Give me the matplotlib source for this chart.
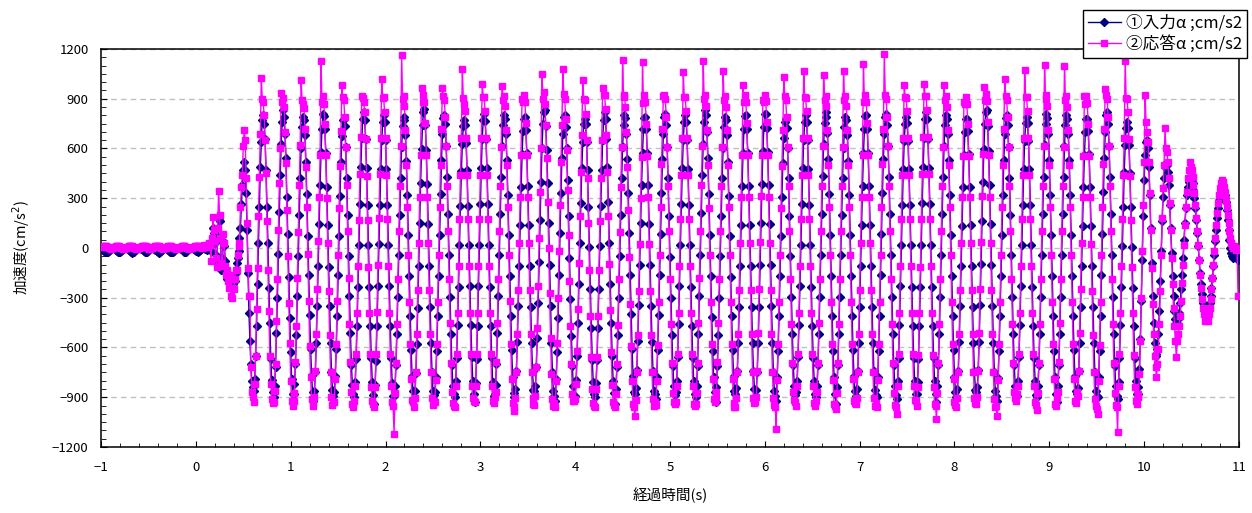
import numpy as np
import matplotlib.pyplot as plt
from matplotlib.ticker import MultipleLocator

plt.rcParams['font.family'] = ['Noto Sans CJK JP', 'DejaVu Sans']

# sampling: 100 Hz, record starts 1 s before the trigger
dt = 0.01
t_start = -1.0

# ---------- ① input acceleration (cm/s2) ----------
input_quiet = [
    -2, -5, -10, -16, -22, -26, -27, -23, -16, -9, -3, 0, 1, 0,
    -3, -7, -12, -18, -23, -27, -26, -21, -14, -7, -2, 1, 2, 0,
    -4, -8, -13, -19, -24, -28, -27, -22, -15, -8, -3, 0, 1, -1,
    -4, -9, -14, -20, -25, -27, -25, -19, -12, -6, -1, 1, 1, -2,
    -5, -10, -15, -21, -26, -28, -25, -18, -11, -5, -1, 1, 0, -2,
    -6, -11, -17, -22, -26, -27, -23, -16, -9, -3, 0, 2, 1, -1,
    -4, -9, -15, -21, -25, -26, -22, -15, -8, -3, 1, 2, 1, -2,
    -6, -11, -16, -20, -22, -20, -14, -8, -3, 0, 2, 3,
]
input_onset = [
    -4, -8, -14, -6, 8, 10, -20, 40, 120, 90, 30, -40, -90, 60, 180, 160,
    50, -130, -60, 44, 10, -80, -150, -190, -160, -200, -210, -230, -250,
    -220, -180, -200, -150, -90, -60, -20, 60, 120, 266, 380, 470, 520, 470,
    330, 110, -150, -390, -560, -700, -800, -840,
]
# one row per shaking cycle, trough to trough
input_cycles = [
    [-860, -790, -650, -470, -220, 30, 250, 490, 640, 770, 800, 745, 655, 470, 250, 30, -240, -455, -670, -795, -870],
    [-900, -835, -715, -510, -300, -35, 215, 440, 630, 760, 830, 790, 690, 540, 310, 85, -175, -420, -625, -790, -880],
    [-880, -820, -700, -525, -290, -50, 200, 420, 605, 730, 790, 770, 680, 520, 325, 75, -165, -405, -610, -765, -870],
    [-920, -860, -745, -570, -350, -110, 145, 380, 580, 720, 805, 795, 715, 575, 370, 140, -115, -350, -570, -745, -855, -890],
    [-870, -770, -610, -410, -165, 75, 315, 520, 675, 770, 780, 735, 610, 420, 200, -50, -290, -515, -705, -825, -880],
    [-900, -810, -670, -470, -235, 20, 265, 490, 665, 775, 820, 770, 660, 485, 260, 15, -235, -470, -665, -810, -885],
    [-940, -825, -680, -470, -230, 25, 260, 475, 650, 760, 800, 760, 650, 475, 260, 15, -230, -470, -665, -815, -890],
    [-890, -830, -705, -520, -295, -45, 200, 425, 610, 735, 790, 770, 680, 525, 320, 80, -170, -410, -615, -770, -865],
    [-910, -865, -755, -580, -360, -110, 150, 390, 595, 740, 820, 840, 740, 590, 385, 145, -110, -355, -575, -745, -860, -885],
    [-870, -775, -620, -410, -170, 80, 325, 530, 690, 785, 800, 745, 615, 430, 205, -45, -295, -520, -705, -830, -880],
    [-900, -805, -665, -465, -235, 15, 255, 465, 630, 735, 770, 740, 635, 470, 255, 15, -230, -465, -660, -800, -880],
    [-930, -815, -670, -470, -230, 20, 265, 485, 660, 770, 810, 765, 655, 480, 265, 20, -235, -470, -665, -810, -890],
    [-880, -825, -700, -515, -290, -45, 205, 430, 615, 740, 800, 780, 685, 530, 320, 80, -170, -410, -615, -775, -875],
    [-900, -850, -740, -565, -350, -110, 140, 370, 565, 705, 780, 790, 710, 570, 375, 140, -110, -355, -570, -740, -855],
    [-860, -835, -720, -540, -330, -85, 170, 400, 600, 745, 820, 830, 735, 590, 390, 150, -100, -350, -575, -750, -860, -890],
    [-920, -790, -625, -420, -160, 90, 330, 540, 690, 790, 800, 730, 600, 410, 190, -60, -305, -530, -710, -835, -890],
    [-890, -795, -650, -450, -220, 30, 270, 480, 640, 745, 780, 750, 640, 470, 250, 5, -245, -480, -675, -810, -880],
    [-900, -815, -675, -480, -245, 10, 255, 470, 650, 770, 820, 775, 660, 490, 275, 30, -220, -455, -650, -800, -875],
    [-940, -850, -715, -525, -300, -50, 200, 425, 610, 740, 800, 785, 690, 535, 330, 90, -160, -400, -610, -770, -870],
    [-880, -845, -735, -560, -345, -100, 150, 380, 575, 715, 785, 790, 715, 575, 380, 145, -105, -350, -565, -740, -860, -880],
    [-910, -780, -615, -405, -165, 85, 330, 535, 690, 790, 810, 740, 610, 425, 195, -55, -300, -525, -710, -830, -885],
    [-870, -800, -660, -460, -230, 20, 265, 480, 650, 760, 800, 760, 650, 475, 260, 15, -235, -470, -665, -805, -880],
    [-900, -835, -710, -520, -290, -40, 210, 440, 630, 760, 830, 800, 700, 540, 325, 80, -170, -415, -620, -780, -870],
    [-930, -840, -710, -525, -300, -50, 195, 420, 600, 730, 790, 770, 680, 520, 315, 75, -175, -410, -615, -770, -865],
    [-880, -845, -740, -570, -355, -110, 140, 375, 575, 715, 795, 800, 715, 570, 375, 140, -110, -355, -570, -740, -850],
    [-900, -855, -745, -575, -355, -105, 150, 385, 585, 730, 805, 810, 725, 580, 380, 145, -105, -350, -570, -745, -860, -895],
    [-920, -780, -620, -410, -170, 75, 310, 515, 665, 760, 780, 725, 600, 420, 195, -50, -295, -520, -705, -830, -885],
    [-870, -800, -660, -465, -230, 20, 265, 480, 650, 760, 800, 760, 650, 475, 260, 15, -235, -470, -665, -805, -880],
    [-900, -830, -705, -520, -295, -45, 205, 435, 625, 755, 820, 790, 695, 535, 325, 80, -170, -410, -620, -780, -880],
    [-940, -840, -705, -520, -295, -45, 200, 425, 605, 730, 790, 770, 680, 525, 320, 80, -170, -410, -615, -770, -865],
    [-890, -850, -740, -570, -355, -110, 140, 375, 575, 715, 795, 800, 715, 570, 375, 140, -110, -355, -570, -740, -855, -885],
    [-900, -780, -620, -410, -165, 85, 330, 535, 690, 790, 810, 740, 615, 430, 205, -45, -295, -520, -705, -830, -885],
    [-910, -805, -665, -465, -230, 20, 260, 475, 645, 750, 790, 755, 645, 475, 260, 15, -235, -470, -665, -805, -880],
    [-880, -810, -670, -470, -235, 20, 270, 490, 665, 775, 820, 775, 660, 485, 265, 15, -235, -470, -665, -805, -880],
    [-930, -835, -705, -520, -295, -45, 205, 430, 615, 740, 800, 780, 685, 530, 320, 80, -170, -410, -615, -775, -870],
    [-900, -850, -740, -565, -350, -110, 135, 365, 560, 700, 775, 780, 705, 565, 370, 140, -110, -355, -570, -740, -855],
    [-870, -840, -735, -565, -345, -95, 160, 395, 595, 745, 820, 830, 735, 585, 380, 145, -105, -350, -570, -745, -860, -895],
    [-920, -785, -620, -410, -170, 80, 320, 530, 685, 785, 800, 740, 610, 425, 200, -45, -295, -520, -705, -830, -885],
    [-890, -800, -660, -465, -230, 20, 260, 475, 645, 755, 790, 755, 645, 475, 260, 15, -235, -470, -665, -805, -885],
    [-900, -830, -705, -520, -295, -45, 205, 430, 620, 745, 810, 785, 690, 530, 320, 80, -170, -410, -620, -780, -880],
    [-930, -835, -705, -520, -295, -45, 205, 430, 615, 740, 800, 780, 685, 530, 320, 80, -170, -410, -615, -770, -865],
    [-880, -845, -740, -570, -355, -110, 135, 365, 560, 700, 775, 780, 705, 565, 370, 135, -110, -355, -570, -745, -860, -890],
    [-900, -780, -620, -410, -165, 85, 335, 545, 700, 800, 820, 745, 615, 430, 205, -45, -295, -520, -710, -835, -890],
    [-910, -810, -665, -465, -235, 10, 250, 460, 620, 725, 760, 725, 620, 455, 245, 5, -240, -470, -665, -805, -880],
]
input_decay = [
    -880, -840, -730, -550, -320, -70, 190, 410, 560, 640,
    650, 600, 490, 320, 120, -90, -290, -450, -570, -640,
    -650, -610, -520, -380, -200, -20, 160, 310, 420, 490,
    510, 500, 460, 380, 260, 120, -30, -170, -290, -380,
    -430, -450, -450, -430, -390, -330, -250, -160, -60, 50,
    150, 240, 320, 370, 400, 420, 420, 410, 390, 350,
    300, 240, 170, 90, 10, -70, -150, -220, -280, -330,
    -360, -380, -390, -390, -380, -360, -330, -290, -240, -180,
    -110, -40, 40, 110, 180, 240, 290, 330, 360, 370,
    370, 350, 320, 280, 230, 170, 110, 50, 0, -30,
    -50, -60, -50, -40, -30, -40, -70,
]

# ---------- ② response acceleration (cm/s2) ----------
response_quiet = [
    4, 7, 10, 12, 13, 11, 8, 4, 0, -3, -4, -3, 0, 2,
    5, 8, 11, 13, 12, 10, 6, 2, -2, -4, -4, -2, 1, 3,
    6, 9, 12, 14, 13, 10, 6, 2, -1, -4, -5, -3, 0, 3,
    5, 9, 12, 13, 12, 9, 5, 1, -2, -4, -4, -2, 1, 4,
    6, 9, 12, 14, 12, 9, 5, 1, -2, -4, -3, -1, 2, 4,
    7, 10, 12, 13, 11, 8, 4, 0, -3, -4, -3, 0, 2, 5,
    7, 10, 13, 14, 12, 8, 4, 0, -2, -4, -3, -1, 2, 4,
    6, 9, 12, 13, 12, 10, 6, 3, 2, 4, 8, 15,
]
response_onset = [
    5, 8, 12, 18, 30, 20, -76, 60, 186, 110, 40, -60, -114, 120, 344, 200,
    60, -90, -110, 84, 30, -110, -160, -130, -200, -240, -160, -290, -300,
    -240, -250, -190, -130, -130, -40, 10, 30, 250, 370, 440, 614, 710, 654,
    420, 150, -120, -290, -290, -720, -870, -900,
]
response_cycles = [
    [-930, -820, -650, -370, -120, 190, 430, 690, 1026, 900, 880, 800, 650, 450, 160, -130, -380, -650, -820, -910, -935],
    [-930, -860, -700, -440, -190, 110, 390, 600, 933, 880, 905, 850, 700, 510, 230, -50, -330, -570, -800, -920, -950],
    [-920, -875, -690, -470, -180, 95, 380, 620, 1014, 890, 870, 845, 720, 490, 250, -35, -320, -590, -780, -910, -925],
    [-950, -900, -740, -520, -250, 40, 310, 560, 1125, 880, 915, 870, 750, 560, 300, 30, -260, -525, -745, -900, -945, -930],
    [-930, -790, -580, -320, -45, 240, 495, 705, 980, 910, 890, 790, 610, 380, 100, -180, -460, -690, -870, -940, -960],
    [-920, -830, -640, -395, -110, 170, 445, 670, 914, 905, 880, 820, 660, 435, 170, -115, -395, -640, -840, -925, -940],
    [-960, -840, -640, -385, -105, 180, 445, 665, 1020, 905, 910, 820, 665, 440, 175, -110, -390, -640, -835, -930, -955],
    [-1120, -875, -695, -460, -185, 100, 375, 615, 1166, 900, 915, 855, 710, 500, 245, -40, -325, -580, -790, -915, -930],
    [-960, -905, -745, -520, -255, 30, 310, 560, 962, 880, 925, 880, 755, 560, 310, 30, -255, -520, -745, -905, -945, -925],
    [-926, -795, -580, -325, -40, 245, 500, 715, 962, 915, 895, 790, 615, 375, 105, -185, -455, -695, -870, -935, -950],
    [-960, -835, -640, -390, -110, 175, 440, 665, 1080, 905, 870, 825, 665, 440, 175, -110, -390, -640, -835, -905, -920],
    [-926, -835, -640, -390, -110, 175, 440, 665, 990, 910, 910, 825, 665, 440, 175, -110, -390, -640, -835, -920, -935],
    [-900, -870, -690, -455, -185, 100, 375, 610, 975, 895, 915, 855, 710, 500, 245, -40, -320, -580, -790, -935, -960],
    [-986, -905, -745, -520, -255, 30, 310, 560, 900, 880, 920, 880, 755, 560, 310, 30, -255, -520, -745, -905, -940],
    [-946, -890, -720, -480, -230, 60, 340, 600, 1050, 900, 940, 870, 740, 540, 280, 0, -270, -540, -760, -910, -950, -935],
    [-960, -800, -570, -300, -20, 260, 520, 740, 1080, 930, 900, 780, 590, 350, 80, -200, -470, -700, -880, -920, -925],
    [-910, -820, -620, -370, -90, 190, 460, 680, 1015, 900, 890, 810, 650, 420, 150, -130, -410, -660, -850, -935, -955],
    [-960, -850, -660, -410, -130, 160, 420, 650, 966, 920, 925, 840, 680, 460, 195, -95, -375, -625, -825, -930, -945],
    [-960, -880, -700, -465, -190, 95, 370, 610, 1134, 910, 920, 850, 700, 490, 230, -55, -335, -590, -800, -940, -960],
    [-1016, -915, -750, -525, -260, 25, 300, 550, 1120, 875, 920, 880, 750, 555, 305, 25, -260, -525, -750, -910, -950, -930],
    [-946, -800, -585, -325, -40, 245, 505, 715, 914, 920, 900, 790, 610, 375, 100, -185, -460, -695, -875, -930, -940],
    [-926, -835, -640, -390, -110, 175, 440, 665, 1060, 910, 910, 825, 665, 440, 175, -110, -390, -640, -835, -940, -955],
    [-940, -875, -695, -455, -180, 105, 380, 615, 1125, 900, 920, 855, 710, 500, 240, -40, -325, -580, -790, -910, -930],
    [-910, -870, -690, -455, -185, 100, 375, 610, 1070, 895, 915, 850, 710, 500, 245, -40, -325, -580, -790, -935, -960],
    [-960, -905, -745, -520, -255, 30, 310, 560, 980, 880, 920, 880, 755, 560, 310, 30, -255, -520, -745, -905, -935],
    [-930, -900, -740, -515, -250, 35, 315, 560, 890, 880, 925, 885, 760, 560, 310, 30, -255, -520, -745, -905, -945, -960],
    [-1090, -795, -580, -325, -40, 240, 495, 710, 1030, 915, 895, 790, 610, 375, 100, -185, -460, -695, -870, -915, -930],
    [-950, -835, -640, -390, -110, 175, 440, 665, 1065, 910, 905, 825, 665, 440, 175, -110, -390, -640, -835, -935, -950],
    [-920, -870, -695, -455, -185, 100, 375, 615, 1045, 895, 915, 855, 710, 500, 245, -40, -325, -580, -795, -940, -955],
    [-970, -875, -695, -460, -185, 100, 375, 610, 1070, 895, 915, 855, 710, 500, 245, -40, -325, -580, -790, -920, -935],
    [-940, -905, -745, -520, -255, 30, 310, 560, 1110, 880, 920, 880, 755, 560, 310, 30, -255, -520, -745, -905, -950, -935],
    [-960, -795, -580, -325, -40, 245, 505, 715, 1170, 920, 900, 790, 615, 375, 100, -185, -460, -695, -875, -945, -960],
    [-1000, -835, -640, -390, -110, 175, 440, 665, 980, 910, 905, 825, 665, 440, 175, -110, -390, -640, -835, -915, -925],
    [-950, -840, -645, -395, -115, 175, 445, 670, 990, 915, 915, 830, 670, 445, 175, -110, -395, -645, -840, -940, -955],
    [-1030, -875, -695, -460, -185, 100, 375, 610, 980, 895, 915, 850, 710, 500, 245, -40, -325, -580, -790, -930, -945],
    [-960, -905, -745, -520, -255, 30, 305, 555, 880, 870, 910, 870, 750, 555, 305, 30, -255, -520, -745, -905, -935],
    [-940, -900, -740, -515, -250, 35, 315, 565, 970, 890, 930, 885, 760, 560, 310, 30, -255, -520, -750, -910, -960, -950],
    [-1016, -795, -580, -325, -40, 245, 500, 715, 1020, 915, 895, 790, 610, 375, 100, -185, -460, -695, -870, -905, -920],
    [-880, -830, -640, -390, -110, 175, 440, 665, 1074, 910, 910, 825, 665, 440, 175, -110, -390, -640, -835, -930, -945],
    [-975, -875, -695, -460, -185, 100, 375, 615, 1105, 900, 920, 855, 710, 500, 245, -40, -325, -580, -790, -940, -955],
    [-905, -870, -690, -455, -185, 100, 375, 610, 1100, 895, 915, 850, 710, 500, 245, -40, -325, -580, -790, -920, -935],
    [-870, -890, -740, -515, -250, 30, 305, 555, 914, 870, 915, 875, 750, 555, 305, 25, -260, -525, -750, -910, -955, -970],
    [-1004, -800, -585, -325, -40, 245, 505, 715, 960, 920, 900, 790, 615, 375, 100, -185, -460, -695, -875, -945, -960],
    [-1110, -835, -640, -390, -110, 175, 440, 665, 1130, 905, 900, 820, 660, 435, 170, -115, -395, -645, -840, -925, -940],
]
response_decay = [
    -900, -880, -760, -560, -300, -20, 260, 520, 924, 760,
    700, 640, 520, 330, 110, -120, -340, -520, -650, -720,
    -780, -700, -610, -460, -260, -40, 180, 360, 500, 724,
    600, 580, 520, 420, 270, 110, -60, -220, -360, -470,
    -560, -660, -560, -520, -470, -410, -320, -210, -100, 20,
    140, 250, 340, 420, 470, 520, 490, 470, 430, 380,
    330, 260, 180, 100, 20, -70, -160, -240, -310, -360,
    -400, -440, -430, -420, -440, -400, -360, -310, -250, -180,
    -100, -20, 60, 140, 210, 270, 320, 360, 390, 410,
    400, 370, 330, 290, 250, 200, 150, 100, 60, 30,
    10, 0, 10, 0, -10, 0, -290,
]


def join_record(quiet, onset, cycles, decay):
    vals = list(quiet) + list(onset)
    for c in cycles:
        vals += c
    vals += decay
    return np.array(vals, dtype=float)


acc_in = join_record(input_quiet, input_onset, input_cycles, input_decay)
acc_out = join_record(response_quiet, response_onset, response_cycles, response_decay)
t_in = t_start + dt * np.arange(len(acc_in))
t_out = t_start + dt * np.arange(len(acc_out))

fig = plt.figure(figsize=(12.52, 5.13), dpi=100)
ax = fig.add_axes([0.0807, 0.1287, 0.9089, 0.7758])

ax.plot(t_in, acc_in, color='#000080', lw=1.0, marker='D', ms=4.0,
        mfc='#000080', mec='#000080', label='①入力α ;cm/s2', zorder=3)
ax.plot(t_out, acc_out, color='#ff00ff', lw=1.0, marker='s', ms=4.8,
        mfc='#ff00ff', mec='#ff00ff', label='②応答α ;cm/s2', zorder=4)

ax.set_xlim(-1, 11)
ax.set_ylim(-1200, 1200)
ax.xaxis.set_major_locator(MultipleLocator(1))
ax.xaxis.set_minor_locator(MultipleLocator(0.2))
ax.yaxis.set_major_locator(MultipleLocator(300))
ax.yaxis.set_minor_locator(MultipleLocator(50))

ax.yaxis.grid(True, which='major', color='#c0c0c0', linestyle=(0, (4, 3)), linewidth=1.0)
ax.set_axisbelow(True)

ax.tick_params(which='both', direction='in', colors='black', labelsize=9.5)
ax.tick_params(axis='x', which='major', length=4.5, pad=10)
ax.tick_params(axis='x', which='minor', length=3)
ax.tick_params(axis='y', which='major', length=4, pad=9)
ax.tick_params(axis='y', which='minor', length=3.5)
for s in ax.spines.values():
    s.set_linewidth(1.1)
    s.set_color('black')

ax.set_xlabel('経過時間(s)', fontsize=10.5, labelpad=10)
ax.set_ylabel('加速度(cm/s$^2$)', fontsize=10.5, labelpad=14)

leg = fig.legend(loc='upper right', bbox_to_anchor=(0.996, 0.981), fontsize=12,
                 frameon=True, fancybox=False, framealpha=1, edgecolor='black',
                 borderpad=0.3, labelspacing=0.2, handlelength=2.0,
                 handletextpad=0.3, borderaxespad=0)
leg.get_frame().set_linewidth(1.0)

fig.savefig('out.png', dpi=100)
